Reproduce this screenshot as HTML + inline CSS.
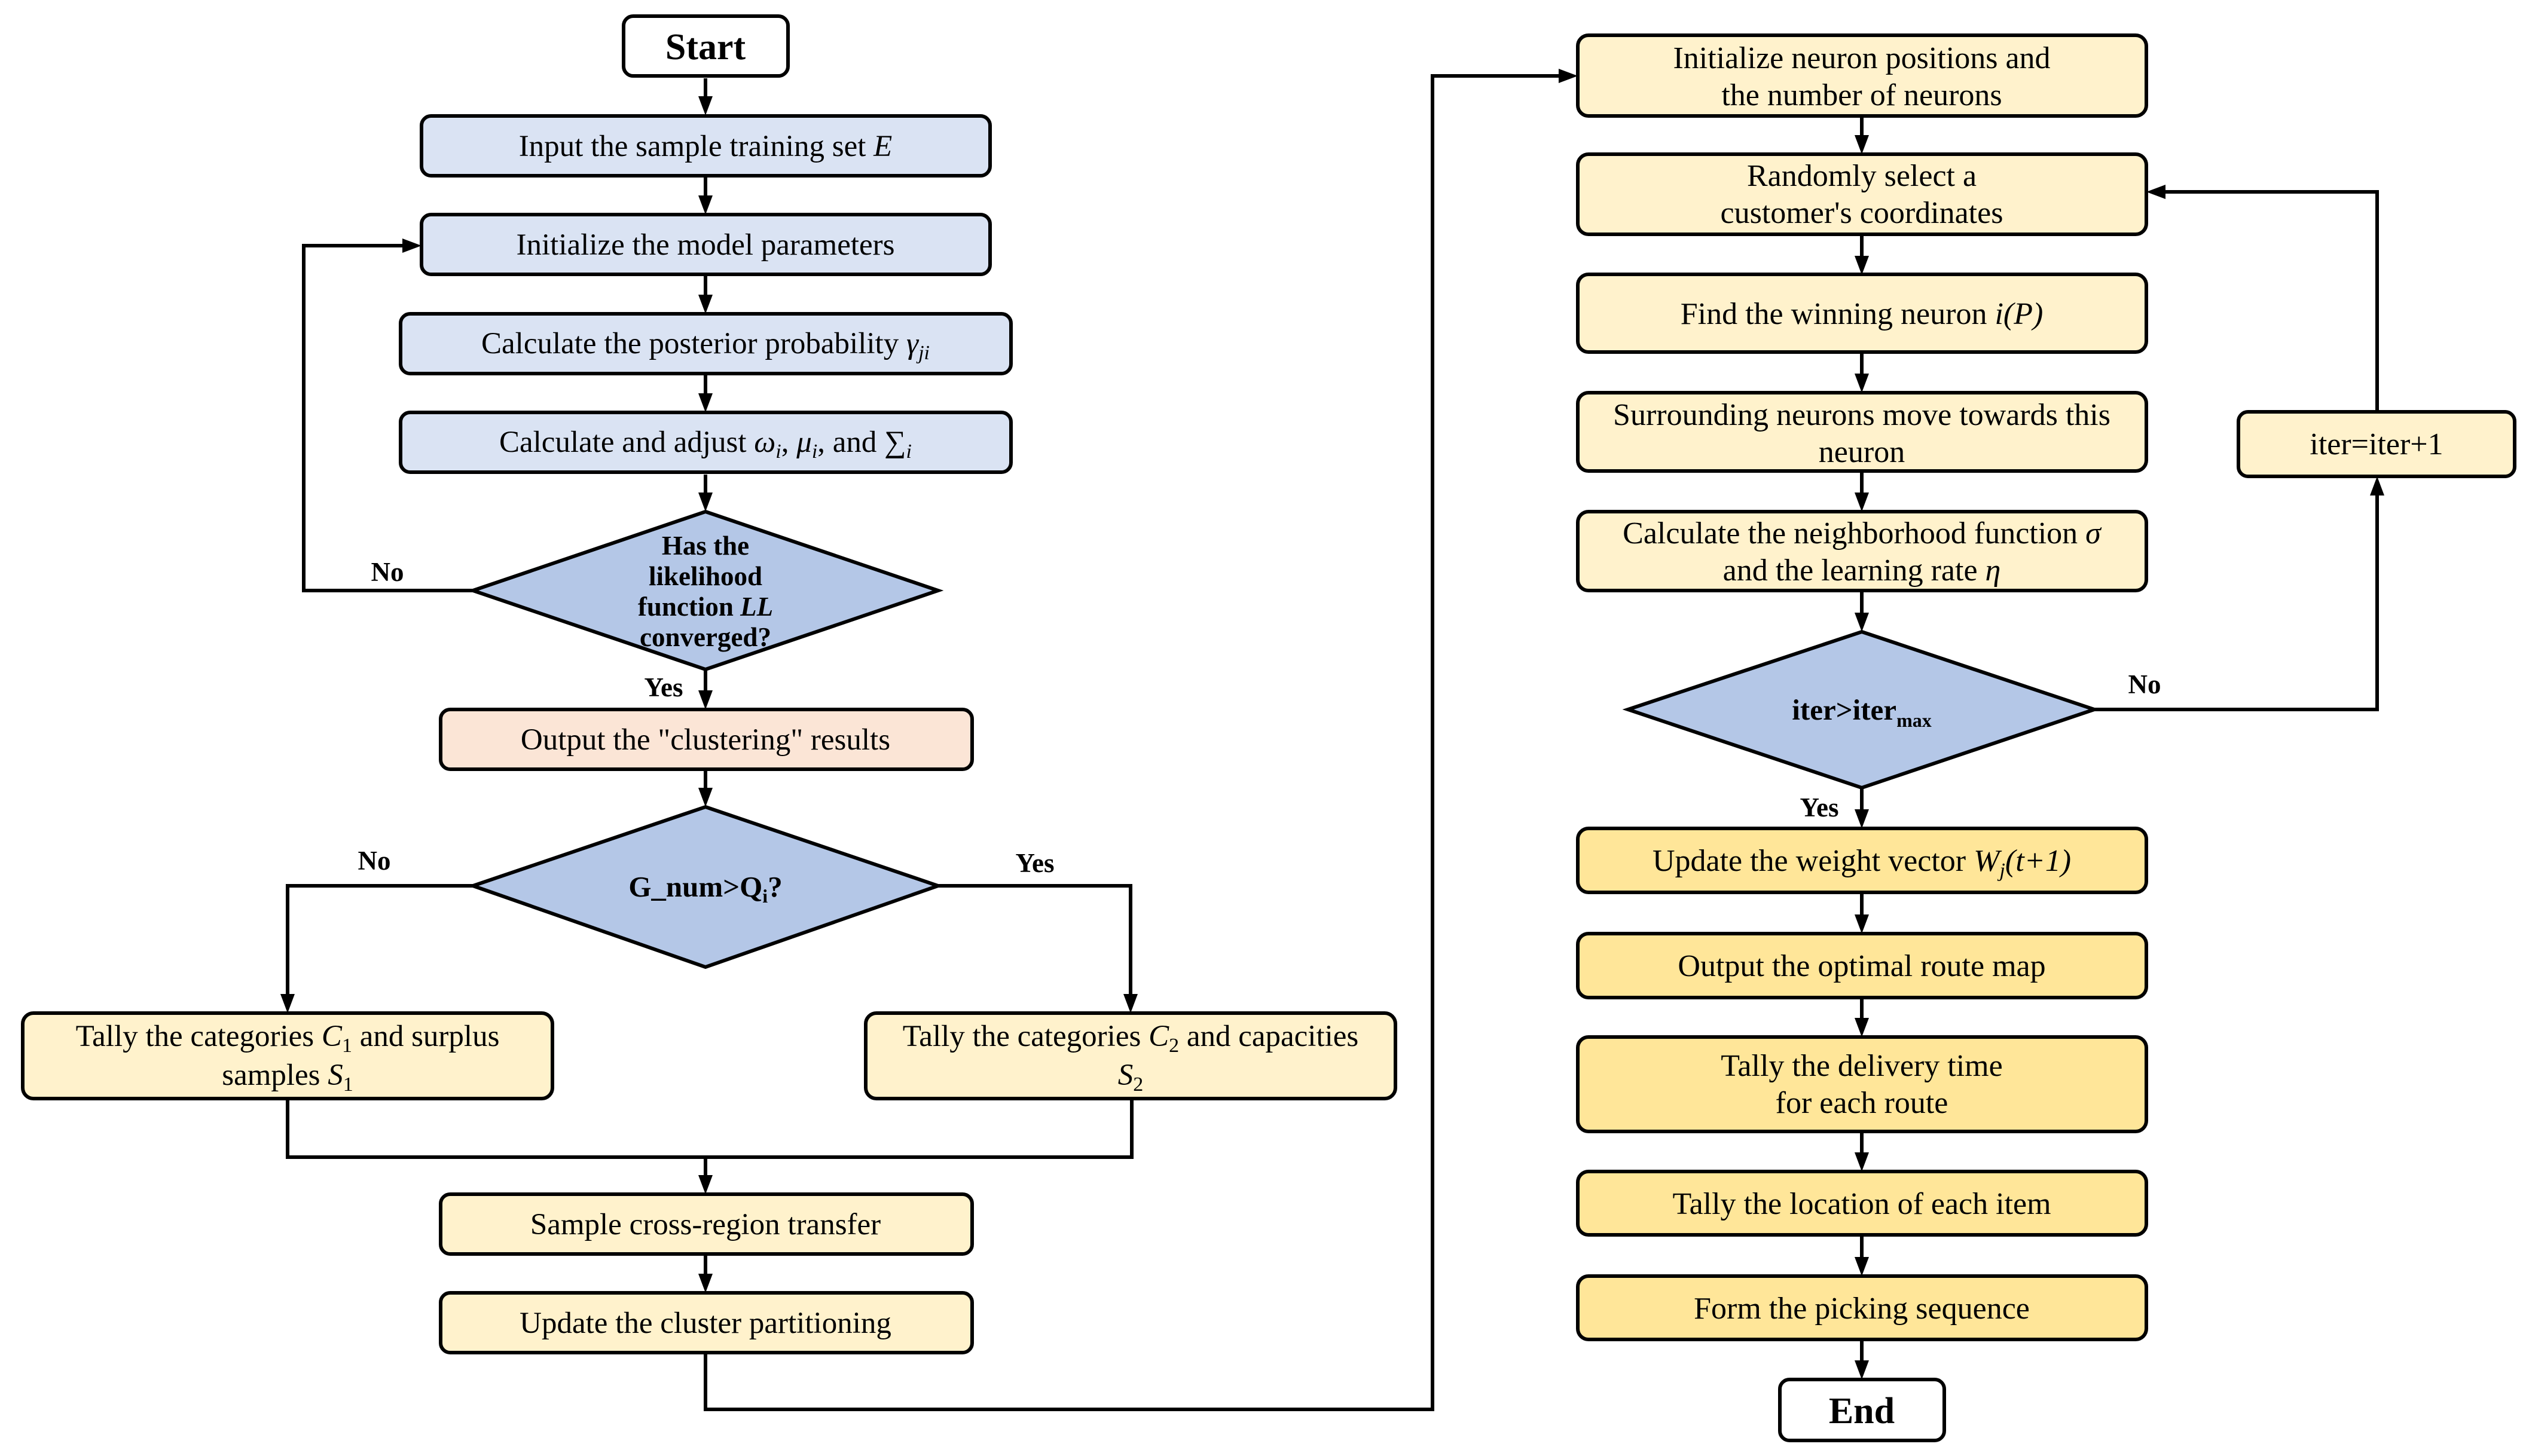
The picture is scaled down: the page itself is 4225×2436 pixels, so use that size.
<!DOCTYPE html>
<html><head><meta charset="utf-8"><style>
html,body{margin:0;padding:0;background:#fff;}
svg{display:block;}
text{font-family:"Liberation Serif",serif;fill:#000;}
</style></head><body>
<svg width="4225" height="2436" viewBox="0 0 4225 2436" xmlns="http://www.w3.org/2000/svg">
<g stroke="#000" stroke-width="6" fill="none" stroke-linejoin="miter">
<line x1="1180" y1="131" x2="1180" y2="163"/>
<line x1="1180" y1="297" x2="1180" y2="329"/>
<line x1="1180" y1="462" x2="1180" y2="495"/>
<line x1="1180" y1="627" x2="1180" y2="660"/>
<line x1="1180" y1="794" x2="1180" y2="828"/>
<line x1="1180" y1="1120" x2="1180" y2="1159"/>
<line x1="1180" y1="1290" x2="1180" y2="1320"/>
<polyline points="791,988 508,988 508,411 680,411"/>
<polyline points="791,1482 481,1482 481,1665"/>
<polyline points="1569,1482 1891,1482 1891,1665"/>
<polyline points="481,1838 481,1936 1893,1936 1893,1838"/>
<line x1="1180" y1="1936" x2="1180" y2="1970"/>
<line x1="1180" y1="2098" x2="1180" y2="2133"/>
<polyline points="1180,2263 1180,2358 2396,2358 2396,127 2610,127"/>
<line x1="3114" y1="194" x2="3114" y2="228"/>
<line x1="3114" y1="392" x2="3114" y2="430"/>
<line x1="3114" y1="589" x2="3114" y2="627"/>
<line x1="3114" y1="788" x2="3114" y2="826"/>
<line x1="3114" y1="988" x2="3114" y2="1027"/>
<line x1="3114" y1="1318" x2="3114" y2="1356"/>
<polyline points="3503,1187 3976,1187 3976,827"/>
<polyline points="3976,689 3976,321 3620,321"/>
<line x1="3114" y1="1493" x2="3114" y2="1532"/>
<line x1="3114" y1="1669" x2="3114" y2="1705"/>
<line x1="3114" y1="1893" x2="3114" y2="1930"/>
<line x1="3114" y1="2066" x2="3114" y2="2105"/>
<line x1="3114" y1="2241" x2="3114" y2="2278"/>
</g>
<g fill="#000">
<polygon points="1168,161 1192,161 1180,193"/>
<polygon points="1168,327 1192,327 1180,359"/>
<polygon points="1168,493 1192,493 1180,525"/>
<polygon points="1168,658 1192,658 1180,690"/>
<polygon points="1168,824 1192,824 1180,856"/>
<polygon points="1168,1155 1192,1155 1180,1187"/>
<polygon points="1168,1318 1192,1318 1180,1350"/>
<polygon points="469,1663 493,1663 481,1695"/>
<polygon points="1879,1663 1903,1663 1891,1695"/>
<polygon points="1168,1966 1192,1966 1180,1998"/>
<polygon points="1168,2131 1192,2131 1180,2163"/>
<polygon points="673,399 673,423 705,411"/>
<polygon points="2607,115 2607,139 2639,127"/>
<polygon points="3102,226 3126,226 3114,258"/>
<polygon points="3102,428 3126,428 3114,460"/>
<polygon points="3102,625 3126,625 3114,657"/>
<polygon points="3102,824 3126,824 3114,856"/>
<polygon points="3102,1025 3126,1025 3114,1057"/>
<polygon points="3102,1354 3126,1354 3114,1386"/>
<polygon points="3102,1530 3126,1530 3114,1562"/>
<polygon points="3102,1703 3126,1703 3114,1735"/>
<polygon points="3102,1928 3126,1928 3114,1960"/>
<polygon points="3102,2103 3126,2103 3114,2135"/>
<polygon points="3102,2276 3126,2276 3114,2308"/>
<polygon points="3964,829 3988,829 3976,797"/>
<polygon points="3622,309 3622,333 3590,321"/>
</g>
<g stroke="#000" stroke-width="6">
<rect x="1043" y="27" width="275" height="100" rx="16" fill="#fff"/>
<rect x="705" y="194" width="951" height="100" rx="16" fill="#dae3f3"/>
<rect x="705" y="359" width="951" height="100" rx="16" fill="#dae3f3"/>
<rect x="670" y="525" width="1021" height="100" rx="16" fill="#dae3f3"/>
<rect x="670" y="690" width="1021" height="100" rx="16" fill="#dae3f3"/>
<polygon points="1180,856 1569,988 1180,1120 791,988" fill="#b4c7e7"/>
<rect x="737" y="1187" width="889" height="100" rx="16" fill="#fbe5d6"/>
<polygon points="1180,1350 1569,1482 1180,1618 791,1482" fill="#b4c7e7"/>
<rect x="38" y="1695" width="886" height="143" rx="18" fill="#fff2cc"/>
<rect x="1448" y="1695" width="886" height="143" rx="18" fill="#fff2cc"/>
<rect x="737" y="1998" width="889" height="100" rx="16" fill="#fff2cc"/>
<rect x="737" y="2163" width="889" height="100" rx="16" fill="#fff2cc"/>
<rect x="2639" y="59" width="951" height="135" rx="18" fill="#fff2cc"/>
<rect x="2639" y="258" width="951" height="134" rx="18" fill="#fff2cc"/>
<rect x="2639" y="459" width="951" height="130" rx="18" fill="#fff2cc"/>
<rect x="2639" y="657" width="951" height="131" rx="18" fill="#fff2cc"/>
<rect x="2639" y="856" width="951" height="132" rx="18" fill="#fff2cc"/>
<polygon points="3114,1057 3503,1187 3114,1318 2723,1187" fill="#b4c7e7"/>
<rect x="3744" y="689" width="462" height="108" rx="16" fill="#fff2cc"/>
<rect x="2639" y="1386" width="951" height="107" rx="18" fill="#ffe699"/>
<rect x="2639" y="1562" width="951" height="107" rx="18" fill="#ffe699"/>
<rect x="2639" y="1735" width="951" height="158" rx="18" fill="#ffe699"/>
<rect x="2639" y="1960" width="951" height="106" rx="18" fill="#ffe699"/>
<rect x="2639" y="2135" width="951" height="106" rx="18" fill="#ffe699"/>
<rect x="2977" y="2308" width="275" height="102" rx="16" fill="#fff"/>
</g>
<g font-size="51" text-anchor="middle">
<text x="1180" y="99" font-size="62" font-weight="bold">Start</text>
<text x="1180" y="261">Input the sample training set <tspan font-style="italic">E</tspan></text>
<text x="1180" y="426">Initialize the model parameters</text>
<text x="1180" y="591">Calculate the posterior probability <tspan font-style="italic">γ<tspan font-size="34" dy="10">ji</tspan></tspan></text>
<text x="1180" y="756">Calculate and adjust <tspan font-style="italic">ω<tspan font-size="34" dy="10">i</tspan></tspan><tspan dy="-10">, </tspan><tspan font-style="italic">μ<tspan font-size="34" dy="10">i</tspan></tspan><tspan dy="-10">, and ∑</tspan><tspan font-style="italic" font-size="34" dy="10">i</tspan></text>
<g font-weight="bold" font-size="45">
<text x="1180" y="928">Has the</text>
<text x="1180" y="979">likelihood</text>
<text x="1180" y="1030">function <tspan font-style="italic">LL</tspan></text>
<text x="1180" y="1081">converged?</text>
<text x="648" y="972">No</text>
<text x="1110" y="1165">Yes</text>
<text x="626" y="1455">No</text>
<text x="1731" y="1459">Yes</text>
<text x="1180" y="1500" font-size="49">G_num&gt;Q<tspan font-size="32" dy="10">i</tspan><tspan dy="-10">?</tspan></text>
<text x="3587" y="1160">No</text>
<text x="3043" y="1366">Yes</text>
<text x="3114" y="1204" font-size="49">iter&gt;iter<tspan font-size="32" dy="12">max</tspan></text>
</g>
<text x="1180" y="1254">Output the "clustering" results</text>
<text x="481" y="1750">Tally the categories <tspan font-style="italic">C</tspan><tspan font-size="34" dy="10">1</tspan><tspan dy="-10"> and surplus</tspan></text>
<text x="481" y="1815">samples <tspan font-style="italic">S</tspan><tspan font-size="34" dy="10">1</tspan></text>
<text x="1891" y="1750">Tally the categories <tspan font-style="italic">C</tspan><tspan font-size="34" dy="10">2</tspan><tspan dy="-10"> and capacities</tspan></text>
<text x="1891" y="1815"><tspan font-style="italic">S</tspan><tspan font-size="34" dy="10">2</tspan></text>
<text x="1180" y="2065">Sample cross-region transfer</text>
<text x="1180" y="2230">Update the cluster partitioning</text>
</g>
<g font-size="52" text-anchor="middle">
<text x="3114" y="114">Initialize neuron positions and</text>
<text x="3114" y="176">the number of neurons</text>
<text x="3114" y="311">Randomly select a</text>
<text x="3114" y="373">customer's coordinates</text>
<text x="3114" y="542">Find the winning neuron <tspan font-style="italic">i(P)</tspan></text>
<text x="3114" y="711">Surrounding neurons move towards this</text>
<text x="3114" y="773">neuron</text>
<text x="3114" y="909">Calculate the neighborhood function <tspan font-style="italic">σ</tspan></text>
<text x="3114" y="971">and the learning rate <tspan font-style="italic">η</tspan></text>
<text x="3975" y="760">iter=iter+1</text>
<text x="3114" y="1457">Update the weight vector <tspan font-style="italic">W<tspan font-size="34" dy="10">j</tspan><tspan dy="-10">(t+1)</tspan></tspan></text>
<text x="3114" y="1633">Output the optimal route map</text>
<text x="3114" y="1800">Tally the delivery time</text>
<text x="3114" y="1862">for each route</text>
<text x="3114" y="2031">Tally the location of each item</text>
<text x="3114" y="2206">Form the picking sequence</text>
<text x="3114" y="2381" font-size="62" font-weight="bold">End</text>
</g>
</svg>
</body></html>
